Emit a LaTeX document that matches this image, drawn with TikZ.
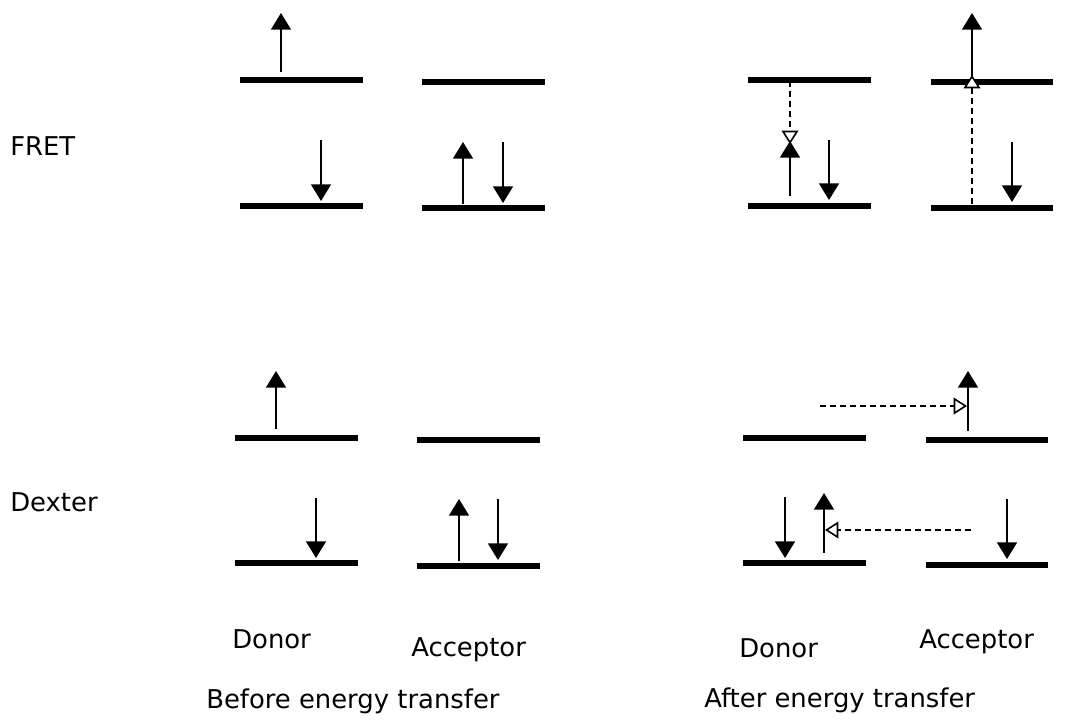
\documentclass[tikz,border=0pt]{standalone}
\usepackage{fontspec}
\setmainfont{DejaVu Sans}
\usetikzlibrary{arrows.meta}
\begin{document}
\begin{tikzpicture}[x=0.75pt,y=-0.75pt,
  level/.style={line width=4.2pt},
  spin/.style={line width=1.2pt,-{Triangle[width=15pt,length=12.5pt]}},
  transfer/.style={line width=1.2pt,dash pattern=on 4.5pt off 3pt,-{Triangle[width=12.5pt,length=10pt,fill=white]}},
  lbl/.style={font=\fontsize{19.4}{23}\selectfont,inner sep=0pt,anchor=base west}]
\useasboundingbox (0,0) rectangle (1073,721);
% ---------- FRET before ----------
\coordinate (fbDuL) at (240,80);  \coordinate (fbDuR) at (363,80);
\coordinate (fbAuL) at (422,82);  \coordinate (fbAuR) at (545,82);
\coordinate (fbDlL) at (240,206); \coordinate (fbDlR) at (363,206);
\coordinate (fbAlL) at (422,208); \coordinate (fbAlR) at (545,208);
\draw[level] (fbDuL) -- (fbDuR);
\draw[level] (fbAuL) -- (fbAuR);
\draw[level] (fbDlL) -- (fbDlR);
\draw[level] (fbAlL) -- (fbAlR);
\coordinate (fb1a) at (281,72);  \coordinate (fb1b) at (281,13);
\coordinate (fb2a) at (321,140); \coordinate (fb2b) at (321,201);
\coordinate (fb3a) at (463,204); \coordinate (fb3b) at (463,142);
\coordinate (fb4a) at (503,142); \coordinate (fb4b) at (503,203);
\draw[spin] (fb1a) -- (fb1b);
\draw[spin] (fb2a) -- (fb2b);
\draw[spin] (fb3a) -- (fb3b);
\draw[spin] (fb4a) -- (fb4b);
% ---------- FRET after ----------
\coordinate (faDuL) at (748,80);  \coordinate (faDuR) at (871,80);
\coordinate (faAuL) at (931,82);  \coordinate (faAuR) at (1053,82);
\coordinate (faDlL) at (748,206); \coordinate (faDlR) at (871,206);
\coordinate (faAlL) at (931,208); \coordinate (faAlR) at (1053,208);
\draw[level] (faDuL) -- (faDuR);
\draw[level] (faAuL) -- (faAuR);
\draw[level] (faDlL) -- (faDlR);
\draw[level] (faAlL) -- (faAlR);
\coordinate (fa1a) at (790,196); \coordinate (fa1b) at (790,141);
\coordinate (fa2a) at (790,81);  \coordinate (fa2b) at (790,144);
\coordinate (fa3a) at (829,140); \coordinate (fa3b) at (829,200);
\coordinate (fa4a) at (972,204); \coordinate (fa4b) at (972,75);
\coordinate (fa5a) at (972,76);  \coordinate (fa5b) at (972,13);
\coordinate (fa6a) at (1012,142); \coordinate (fa6b) at (1012,202);
\draw[spin] (fa1a) -- (fa1b);
\draw[transfer] (fa2a) -- (fa2b);
\draw[spin] (fa3a) -- (fa3b);
\draw[spin] (fa5a) -- (fa5b);
\draw[transfer] (fa4a) -- (fa4b);
\draw[spin] (fa6a) -- (fa6b);
% ---------- Dexter before ----------
\coordinate (dbDuL) at (235,438); \coordinate (dbDuR) at (358,438);
\coordinate (dbAuL) at (417,440); \coordinate (dbAuR) at (540,440);
\coordinate (dbDlL) at (235,563); \coordinate (dbDlR) at (358,563);
\coordinate (dbAlL) at (417,566); \coordinate (dbAlR) at (540,566);
\draw[level] (dbDuL) -- (dbDuR);
\draw[level] (dbAuL) -- (dbAuR);
\draw[level] (dbDlL) -- (dbDlR);
\draw[level] (dbAlL) -- (dbAlR);
\coordinate (db1a) at (276,429); \coordinate (db1b) at (276,371);
\coordinate (db2a) at (316,498); \coordinate (db2b) at (316,558);
\coordinate (db3a) at (459,561); \coordinate (db3b) at (459,499);
\coordinate (db4a) at (498,499); \coordinate (db4b) at (498,560);
\draw[spin] (db1a) -- (db1b);
\draw[spin] (db2a) -- (db2b);
\draw[spin] (db3a) -- (db3b);
\draw[spin] (db4a) -- (db4b);
% ---------- Dexter after ----------
\coordinate (daDuL) at (743,438); \coordinate (daDuR) at (866,438);
\coordinate (daAuL) at (926,440); \coordinate (daAuR) at (1048,440);
\coordinate (daDlL) at (743,563); \coordinate (daDlR) at (866,563);
\coordinate (daAlL) at (926,565); \coordinate (daAlR) at (1048,565);
\draw[level] (daDuL) -- (daDuR);
\draw[level] (daAuL) -- (daAuR);
\draw[level] (daDlL) -- (daDlR);
\draw[level] (daAlL) -- (daAlR);
\coordinate (da1a) at (968,431); \coordinate (da1b) at (968,371);
\coordinate (da2a) at (820,406); \coordinate (da2b) at (967,406);
\coordinate (da3a) at (785,497); \coordinate (da3b) at (785,558);
\coordinate (da4a) at (824,553); \coordinate (da4b) at (824,493);
\coordinate (da5a) at (971,530); \coordinate (da5b) at (825,530);
\coordinate (da6a) at (1007,499); \coordinate (da6b) at (1007,559);
\draw[spin] (da1a) -- (da1b);
\draw[transfer] (da2a) -- (da2b);
\draw[spin] (da3a) -- (da3b);
\draw[spin] (da4a) -- (da4b);
\draw[transfer] (da5a) -- (da5b);
\draw[spin] (da6a) -- (da6b);
% ---------- labels ----------
\node[lbl] (fret) at (10,155) {FRET};
\node[lbl] (dexter) at (10,511) {Dexter};
\node[lbl] (don1) at (232,648) {Donor};
\node[lbl] (acc1) at (411,656) {Acceptor};
\node[lbl] (don2) at (739,657) {Donor};
\node[lbl] (acc2) at (919,648) {Acceptor};
\node[lbl] (before) at (206,708) {Before energy transfer};
\node[lbl] (after) at (704,707) {After energy transfer};
\end{tikzpicture}
\end{document}
